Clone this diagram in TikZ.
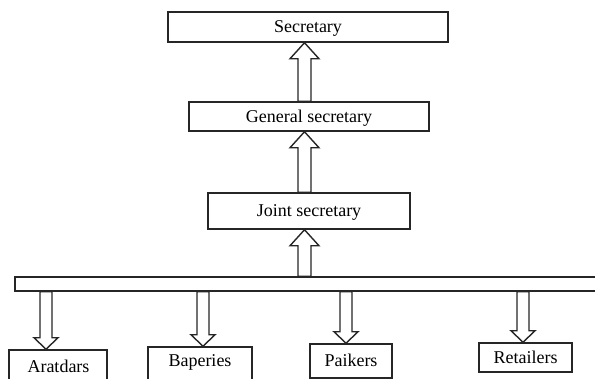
\documentclass[tikz,border=0pt]{standalone}
\usepackage{fontspec}
\setmainfont{Liberation Serif}
\usetikzlibrary{calc}
\tikzset{
  box/.style={draw=black!85, line width=1.5pt, rectangle, inner sep=0pt,
    text height=12pt, text depth=0pt, font=\fontsize{18}{20}\selectfont},
  lbl/.style={inner sep=0pt, anchor=base, font=\fontsize{18}{20}\selectfont},
  barrow/.style={draw=black!85, line width=1.4pt, fill=white, line join=miter}
}
\newcommand\blkup[3]{\draw[barrow] let \p1=(#1.north), \p2=(#2.south) in
  ({#3pt-6.5pt},\y1) -- ({#3pt-6.5pt},{\y2-16pt}) -- ({#3pt-14.5pt},{\y2-16pt}) -- ({#3pt},\y2)
  -- ({#3pt+14.5pt},{\y2-16pt}) -- ({#3pt+6.5pt},{\y2-16pt}) -- ({#3pt+6.5pt},\y1) -- cycle;}
\newcommand\blkdown[3]{\draw[barrow] let \p1=(#1.south), \p2=(#2.north) in
  ({#3pt-6pt},\y1) -- ({#3pt-6pt},{\y2+11.5pt}) -- ({#3pt-12pt},{\y2+11.5pt}) -- ({#3pt},\y2)
  -- ({#3pt+12pt},{\y2+11.5pt}) -- ({#3pt+6pt},{\y2+11.5pt}) -- ({#3pt+6pt},\y1) -- cycle;}
\begin{document}
\begin{tikzpicture}[x=1pt,y=-1pt]
\useasboundingbox (0,0) rectangle (595,379);
\node[box, minimum width=280pt, minimum height=30pt] (sec) at (308,27) {Secretary};
\node[box, minimum width=240pt, minimum height=29pt] (gen) at (309,116.5) {General secretary};
\node[box, minimum width=202pt, minimum height=36pt] (joint) at (309,211) {Joint secretary};
\node[box, minimum width=605pt, minimum height=14pt] (bar) at (317.5,284) {};
\node[box, minimum width=98pt, minimum height=50pt] (arat) at (58,375) {};
\node[lbl] (arattxt) at (58.5,373) {Aratdars};
\node[box, minimum width=104pt, minimum height=50pt] (bap) at (200,372) {};
\node[lbl] (baptxt) at (200,367) {Baperies};
\node[box, minimum width=82pt, minimum height=34pt] (paik) at (351,361) {Paikers};
\node[box, minimum width=93pt, minimum height=29pt] (ret) at (525.5,357.5) {Retailers};
\blkup{gen}{sec}{304.5}
\blkup{joint}{gen}{304.5}
\blkup{bar}{joint}{304.5}
\blkdown{bar}{arat}{46}
\blkdown{bar}{bap}{203}
\blkdown{bar}{paik}{346}
\blkdown{bar}{ret}{523}
\end{tikzpicture}
\end{document}
